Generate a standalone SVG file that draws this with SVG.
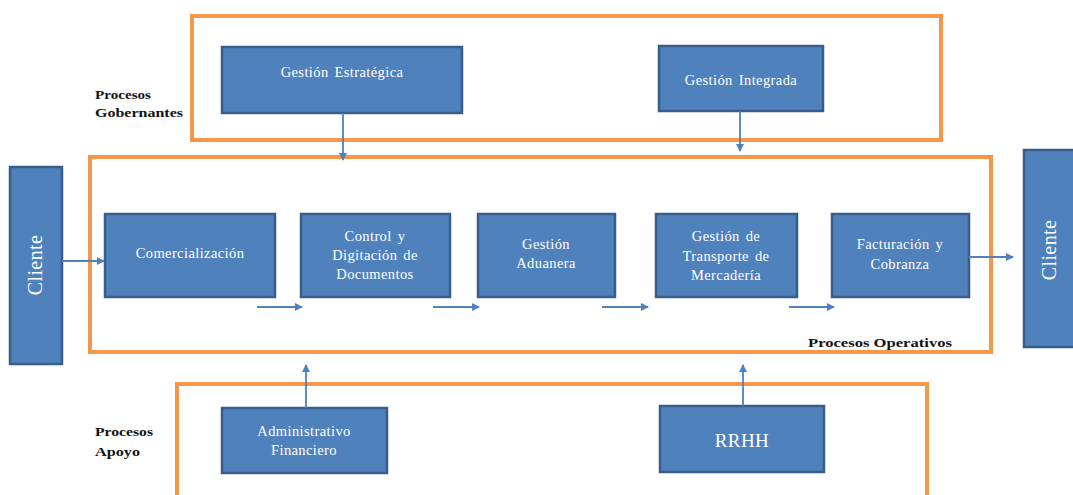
<svg xmlns="http://www.w3.org/2000/svg" width="1073" height="495" viewBox="0 0 1073 495">
<defs>
<style>
.grp{fill:none;stroke:#F79646;stroke-width:4}
.box{fill:#4F81BD;stroke:#385D8A;stroke-width:2.5}
.t{fill:#ffffff;font-family:"Liberation Serif","Times New Roman",serif;font-size:14.5px;text-anchor:middle;letter-spacing:0.4px;word-spacing:2px}
.lbl{fill:#111111;font-family:"Liberation Serif","Times New Roman",serif;font-size:13px;font-weight:bold}
.con{fill:none;stroke:#4F81BD;stroke-width:1.8;marker-end:url(#ah)}
</style>
<marker id="ah" markerWidth="8" markerHeight="8" refX="7" refY="4" orient="auto" markerUnits="userSpaceOnUse" viewBox="0 0 8 8">
<path d="M0,0 L8,4 L0,8 z" fill="#4F81BD"/>
</marker>
</defs>
<rect width="1073" height="495" fill="#ffffff"/>

<g id="group-gobernantes">
<rect class="grp" x="192" y="16" width="749" height="124"/>
<text class="lbl" x="95" y="99" textLength="56" lengthAdjust="spacingAndGlyphs">Procesos</text>
<text class="lbl" x="95" y="117" textLength="88" lengthAdjust="spacingAndGlyphs">Gobernantes</text>
</g>
<g id="group-operativos">
<rect class="grp" x="90" y="157" width="901" height="195"/>
<text class="lbl" x="808" y="347" textLength="144" lengthAdjust="spacingAndGlyphs">Procesos  Operativos</text>
</g>
<g id="group-apoyo">
<rect class="grp" x="177" y="384" width="750" height="130"/>
<text class="lbl" x="95" y="436" textLength="58" lengthAdjust="spacingAndGlyphs">Procesos</text>
<text class="lbl" x="95" y="456" textLength="45" lengthAdjust="spacingAndGlyphs">Apoyo</text>
</g>

<g id="node-gestion-estrategica">
<rect class="box" x="222" y="47" width="240" height="66"/>
<text class="t" x="342" y="77">Gestión  Estratégica</text>
</g>
<g id="node-gestion-integrada">
<rect class="box" x="659" y="46" width="164" height="65"/>
<text class="t" x="741" y="85">Gestión Integrada</text>
</g>
<g id="node-cliente-left">
<rect class="box" x="10" y="167" width="52" height="197"/>
<text class="t" style="font-size:20px" transform="translate(42,265) rotate(-90)">Cliente</text>
</g>
<g id="node-cliente-right">
<rect class="box" x="1024" y="150" width="52" height="197"/>
<text class="t" style="font-size:20px" transform="translate(1056,250) rotate(-90)">Cliente</text>
</g>
<g id="node-comercializacion">
<rect class="box" x="105" y="214" width="170" height="83"/>
<text class="t" x="190" y="258">Comercialización</text>
</g>
<g id="node-control">
<rect class="box" x="301" y="214" width="149" height="83"/>
<text class="t" x="375" y="241">Control y</text>
<text class="t" x="375" y="260">Digitación  de</text>
<text class="t" x="375" y="279">Documentos</text>
</g>
<g id="node-aduanera">
<rect class="box" x="478" y="214" width="137" height="83"/>
<text class="t" x="546" y="249">Gestión</text>
<text class="t" x="546" y="268">Aduanera</text>
</g>
<g id="node-transporte">
<rect class="box" x="656" y="214" width="141" height="83"/>
<text class="t" x="726" y="241">Gestión de</text>
<text class="t" x="726" y="261">Transporte  de</text>
<text class="t" x="726" y="280">Mercadería</text>
</g>
<g id="node-facturacion">
<rect class="box" x="832" y="214" width="137" height="83"/>
<text class="t" x="900" y="249">Facturación  y</text>
<text class="t" x="900" y="269">Cobranza</text>
</g>
<g id="node-administrativo">
<rect class="box" x="222" y="408" width="165" height="65"/>
<text class="t" x="304" y="436">Administrativo</text>
<text class="t" x="304" y="455">Financiero</text>
</g>
<g id="node-rrhh">
<rect class="box" x="660" y="406" width="164" height="66"/>
<text class="t" style="font-size:19px" x="742" y="447">RRHH</text>
</g>

<g id="connectors">
<line class="con" x1="343" y1="113" x2="343" y2="160"/>
<line class="con" x1="740" y1="111" x2="740" y2="151"/>
<line class="con" x1="62" y1="261" x2="104" y2="261"/>
<line class="con" x1="257" y1="307" x2="302" y2="307"/>
<line class="con" x1="433" y1="307" x2="479" y2="307"/>
<line class="con" x1="602" y1="307" x2="648" y2="307"/>
<line class="con" x1="789" y1="307" x2="834" y2="307"/>
<line class="con" x1="969" y1="257" x2="1013" y2="257"/>
<line class="con" x1="306" y1="408" x2="306" y2="365"/>
<line class="con" x1="743" y1="406" x2="743" y2="365"/>
</g>
</svg>
